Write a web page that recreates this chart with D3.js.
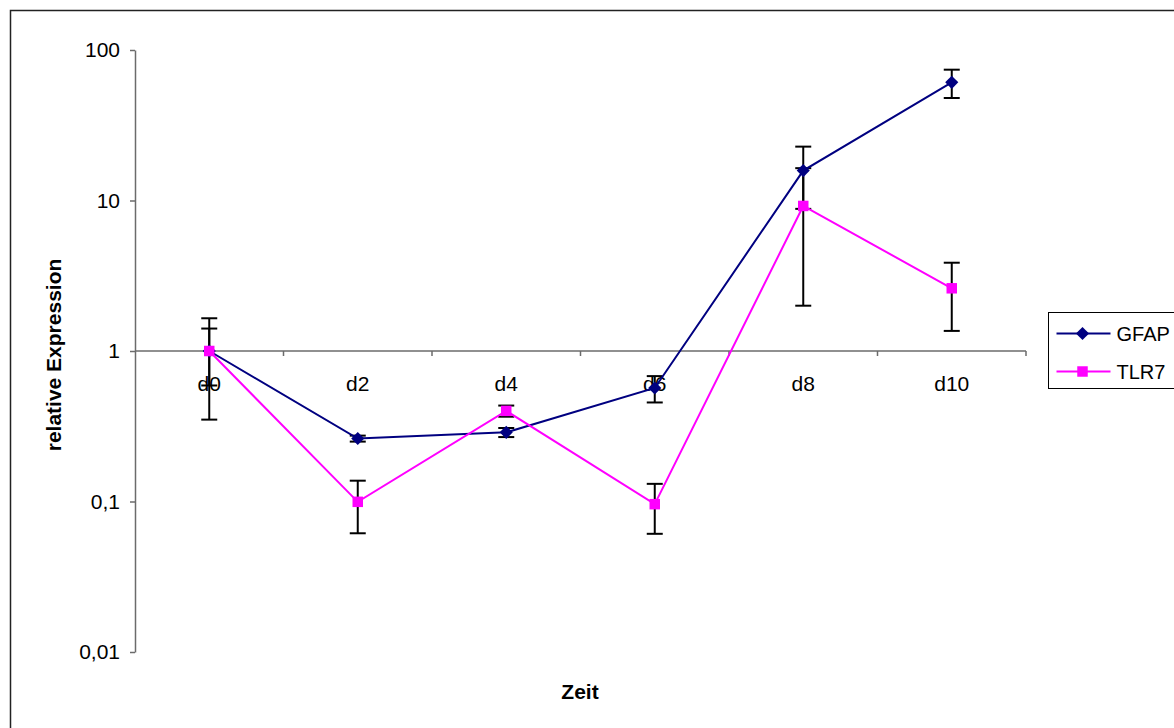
<!DOCTYPE html>
<html>
<head>
<meta charset="utf-8">
<script src="https://cdn.jsdelivr.net/npm/d3@7"></script>
<style>
  body { margin: 0; background: #fff; }
  text { font-family: "Liberation Sans", Arial, sans-serif; }
</style>
</head>
<body>
<div id="chart"></div>
<script>
// categories + series
const days = ["d0", "d2", "d4", "d6", "d8", "d10"];
const gfap = [1, 0.262, 0.288, 0.568, 15.8, 61];
const gfapErr = [0.41, 0.012, 0.02, 0.113, 7.0, 13];
const tlr7 = [1, 0.0995, 0.4, 0.096, 9.2, 2.61];
const tlr7Err = [0.65, 0.038, 0.034, 0.035, 7.2, 1.25];
const yTicks = [0.01, 0.1, 1, 10, 100];

const width = 1174, height = 728;
const margin = {top: 50, right: 148, bottom: 75, left: 135};

const svg = d3.select("#chart").append("svg")
  .attr("width", width)
  .attr("height", height);

// outer frame, runs off the right/bottom edge like the original
svg.append("rect")
  .attr("x", 10.5).attr("y", 10.5)
  .attr("width", width).attr("height", height)
  .attr("fill", "none").attr("stroke", "#222").attr("stroke-width", 1.5);

const x = d3.scaleBand()
  .domain(days)
  .range([margin.left, 1026]);

const y = d3.scaleLog()
  .domain([0.01, 100])
  .range([652, 50]);

const fmt = d => String(d).replace(".", ",");

// y axis
svg.append("g")
  .attr("transform", `translate(${margin.left},0)`)
  .call(d3.axisLeft(y).tickValues(yTicks).tickFormat(fmt).tickSize(5).tickSizeOuter(0).tickPadding(10))
  .call(g => g.selectAll("line, path").attr("stroke", "#6b6b6b").attr("stroke-width", 1.5))
  .call(g => g.selectAll("text").attr("font-size", 21).attr("fill", "#000")
    .attr("font-family", "Liberation Sans, Arial, sans-serif"));

// x axis crosses at 1
const xAxisY = y(1);
const xg = svg.append("g").attr("transform", `translate(0,${xAxisY})`);
xg.append("line")
  .attr("x1", margin.left).attr("x2", 1026)
  .attr("stroke", "#6b6b6b").attr("stroke-width", 1.5);
const bounds = days.map(d => x(d)).concat([x.range()[1]]);
xg.selectAll(".tk")
  .data(bounds.slice(1))
  .join("line")
  .attr("x1", d => d).attr("x2", d => d)
  .attr("y1", 0).attr("y2", 5)
  .attr("stroke", "#6b6b6b").attr("stroke-width", 1.5);

const cx = d => x(d) + x.bandwidth() / 2;

// error bars
const drawErr = (vals, errs) => {
  const g = svg.append("g").attr("stroke", "#000").attr("stroke-width", 2);
  vals.forEach((v, i) => {
    const px = cx(days[i]);
    const hi = y(v + errs[i]);
    const lo = y(Math.max(v - errs[i], 0.011));
    g.append("line").attr("x1", px).attr("x2", px).attr("y1", hi).attr("y2", lo);
    g.append("line").attr("x1", px - 8).attr("x2", px + 8).attr("y1", hi).attr("y2", hi);
    g.append("line").attr("x1", px - 8).attr("x2", px + 8).attr("y1", lo).attr("y2", lo);
  });
};
drawErr(gfap, gfapErr);
drawErr(tlr7, tlr7Err);

const line = d3.line().x((d, i) => cx(days[i])).y(d => y(d));

const series = [
  {name: "GFAP", vals: gfap, color: "#000080", shape: d3.symbolDiamond2, size: 110},
  {name: "TLR7", vals: tlr7, color: "#ff00ff", shape: d3.symbolSquare, size: 110}
];

series.forEach(s => {
  svg.append("path")
    .datum(s.vals)
    .attr("d", line)
    .attr("fill", "none")
    .attr("stroke", s.color)
    .attr("stroke-width", 2);
  svg.append("g").selectAll("path")
    .data(s.vals)
    .join("path")
    .attr("transform", (d, i) => `translate(${cx(days[i])},${y(d)})`)
    .attr("d", d3.symbol(s.shape, s.size))
    .attr("fill", s.color);
});

// category labels drawn on top, like Excel
xg.selectAll(".lbl")
  .data(days)
  .join("text")
  .attr("x", d => cx(d))
  .attr("y", 40)
  .attr("text-anchor", "middle")
  .attr("font-size", 21)
  .text(d => d);

// axis titles
svg.append("text")
  .attr("transform", `translate(61,${xAxisY + 4}) rotate(-90)`)
  .attr("text-anchor", "middle")
  .attr("font-size", 21)
  .attr("font-weight", "bold")
  .text("relative Expression");

svg.append("text")
  .attr("x", 580).attr("y", 699)
  .attr("text-anchor", "middle")
  .attr("font-size", 21)
  .attr("font-weight", "bold")
  .text("Zeit");

// legend
const lg = svg.append("g").attr("transform", "translate(1048.5,312.5)");
lg.append("rect")
  .attr("width", 140).attr("height", 76)
  .attr("fill", "#fff").attr("stroke", "#000").attr("stroke-width", 1);
series.forEach((s, i) => {
  const ly = 21 + i * 38;
  lg.append("line")
    .attr("x1", 8).attr("x2", 62).attr("y1", ly).attr("y2", ly)
    .attr("stroke", s.color).attr("stroke-width", 2);
  lg.append("path")
    .attr("transform", `translate(34,${ly})`)
    .attr("d", d3.symbol(s.shape, s.size))
    .attr("fill", s.color);
  lg.append("text")
    .attr("x", 68).attr("y", ly + 7)
    .attr("font-size", 20)
    .text(s.name);
});
</script>
</body>
</html>
